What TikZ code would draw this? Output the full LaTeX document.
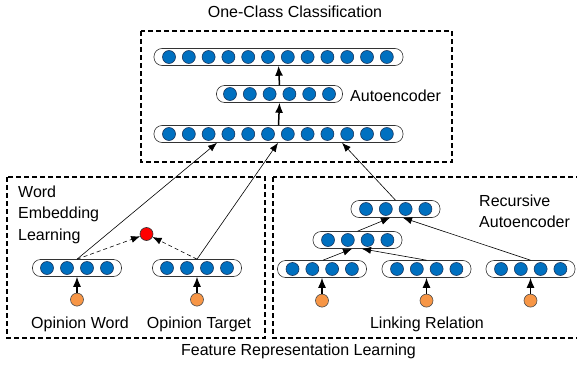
\documentclass[tikz,border=0pt]{standalone}
\usepackage{fontspec}
\setmainfont{Liberation Sans}
\usetikzlibrary{arrows.meta,positioning}
\definecolor{unitblue}{RGB}{0,112,192}
\definecolor{unitedge}{RGB}{25,55,95}
\definecolor{inputorange}{RGB}{247,150,70}
\definecolor{simred}{RGB}{255,0,0}

\begin{document}
\begin{tikzpicture}[
        x=1pt, y=-1pt,
        every node/.style={font=\fontsize{16pt}{19pt}\selectfont},
        txt/.style={inner sep=0pt},
        group/.style={draw=black, line width=1.3pt, dash pattern=on 5pt off 3pt},
        layer/.style={rectangle, draw=black!80, line width=0.6pt, rounded corners=8pt, minimum height=17pt, inner sep=0pt},
        unit/.style={circle, draw=unitedge, line width=0.6pt, fill=unitblue, minimum size=13pt, inner sep=0pt},
        wordin/.style={circle, draw=black!70, line width=0.6pt, fill=inputorange, minimum size=13pt, inner sep=0pt},
        simnode/.style={circle, draw=black!80, line width=0.6pt, fill=simred, minimum size=13pt, inner sep=0pt},
        feed/.style={-{Latex[length=10pt,width=8pt]}, line width=1.5pt},
        link/.style={-{Latex[length=9pt,width=7pt]}, line width=0.6pt},
        simlink/.style={link, dash pattern=on 4pt off 3pt}
    ]
    \useasboundingbox (0,0) rectangle (577,369);

    % Dashed groups
    \draw[group] (141,31) rectangle (452,162);
    \draw[group] (7,177) rectangle (265,338);
    \draw[group] (273,177) rectangle (582,338);

    \node[txt, anchor=base] (octitle) at (295,17.5) {One-Class Classification};
    \node[txt, anchor=base] (frtitle) at (298.5,355.5) {Feature Representation Learning};

    % One-class autoencoder
    \node[layer, minimum width=249pt] (ocTop) at (278.5,57) {};
    \node[layer, minimum width=126pt] (ocMid) at (279.5,94) {};
    \node[layer, minimum width=249pt] (ocBot) at (278.5,134) {};
    \foreach \i in {0,...,11} {
        \node[unit] (top\i) at (169+19.8*\i,57) {};
        \node[unit] (bot\i) at (169+19.8*\i,134) {};
    }
    \foreach \i in {0,...,5}
        \node[unit] (mid\i) at (230+19.8*\i,94) {};
    \node[txt, anchor=base west] (aelabel) at (350,101) {Autoencoder};

    \draw[feed] (ocBot.north) -- (ocMid.south);
    \draw[feed] (ocMid.north) -- (ocTop.south);

    % Word embedding learning
    \node[txt, anchor=base west] (welabel1) at (18,197) {Word};
    \node[txt, anchor=base west] (welabel2) at (18,218.5) {Embedding};
    \node[txt, anchor=base west] (welabel3) at (18,240) {Learning};

    \node[layer, minimum width=89pt] (wordPill) at (77,268) {};
    \node[layer, minimum width=89pt] (targetPill) at (197,268) {};
    \foreach \i in {0,...,3} {
        \node[unit] (w\i) at (47+20*\i,268) {};
        \node[unit] (t\i) at (167+20*\i,268) {};
    }
    \node[wordin, below=16pt of wordPill] (wordIn) {};
    \node[wordin, below=16pt of targetPill] (targetIn) {};
    \node[simnode] (sim) at (146.5,234) {};

    \node[txt, anchor=base] (owlabel) at (80,328) {Opinion Word};
    \node[txt, anchor=base] (otlabel) at (199,328) {Opinion Target};

    \draw[feed, line width=1.2pt] (wordIn) -- (wordPill.south);
    \draw[feed, line width=1.2pt] (targetIn) -- (targetPill.south);
    \draw[simlink] (wordPill.north) -- (sim);
    \draw[simlink] (targetPill.north) -- (sim);

    % Recursive autoencoder
    \node[layer, minimum width=89pt] (rae3) at (395.5,209) {};
    \node[layer, minimum width=89pt] (rae2) at (357.5,240) {};
    \node[layer, minimum width=89pt] (leaf1) at (322,269) {};
    \node[layer, minimum width=89pt] (leaf2) at (426.5,269) {};
    \node[layer, minimum width=89pt] (leaf3) at (530.5,269) {};
    \foreach \i in {0,...,3} {
        \node[unit] (r3\i) at (366+19.8*\i,209) {};
        \node[unit] (r2\i) at (328+19.8*\i,240) {};
        \node[unit] (la\i) at (292.5+19.8*\i,269) {};
        \node[unit] (lb\i) at (397+19.8*\i,269) {};
        \node[unit] (lc\i) at (501+19.8*\i,269) {};
    }
    \node[wordin, below=16pt of leaf1] (leaf1In) {};
    \node[wordin, below=16pt of leaf2] (leaf2In) {};
    \node[wordin, below=16pt of leaf3] (leaf3In) {};

    \node[txt, anchor=base west] (raelabel1) at (479,206) {Recursive};
    \node[txt, anchor=base west] (raelabel2) at (479,227) {Autoencoder};
    \node[txt, anchor=base] (lrlabel) at (427,328) {Linking Relation};

    \draw[feed, line width=1.2pt] (leaf1In) -- (leaf1.south);
    \draw[feed, line width=1.2pt] (leaf2In) -- (leaf2.south);
    \draw[feed, line width=1.2pt] (leaf3In) -- (leaf3.south);
    \draw[link] ([xshift=1pt]leaf1.north) -- ([xshift=-5.5pt]rae2.south);
    \draw[link] (leaf2.north) -- ([xshift=4.5pt]rae2.south);
    \draw[link] (rae2.north) -- ([xshift=-5.5pt]rae3.south);
    \draw[link] (leaf3.north) -- ([xshift=7.5pt]rae3.south);

    % Into the one-class input layer
    \draw[link] (wordPill.north) -- ([xshift=-61.5pt]ocBot.south);
    \draw[link] (targetPill.north) -- ([xshift=-0.5pt]ocBot.south);
    \draw[link] (rae3.north) -- ([xshift=63.5pt]ocBot.south);

\end{tikzpicture}
\end{document}
